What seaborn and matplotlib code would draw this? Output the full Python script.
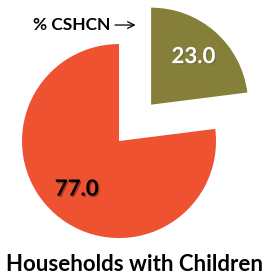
import matplotlib
matplotlib.use('Agg')
import matplotlib.pyplot as plt
import matplotlib.patheffects as pe
import seaborn as sns

# Share of households with children
labels = ['CSHCN', 'Other']
values = [23.0, 77.0]
colors = ['#857F39', '#EE5230']
explode = [0.5, 0.0]

sns.set_theme(style='white')
plt.rcParams['font.family'] = ['Lato', 'DejaVu Sans']

fig = plt.figure(figsize=(2.69, 2.78), dpi=100)
ax = fig.add_axes([0, 0, 1, 1])

wedges, texts, autotexts = ax.pie(values, colors=colors, explode=explode,
                                  startangle=90, counterclock=False,
                                  autopct='%.1f', pctdistance=0.66,
                                  wedgeprops=dict(linewidth=0))

# value labels: white on olive, black on orange
autotexts[0].set_color('white')
autotexts[1].set_color('black')
for t in autotexts:
    t.set_fontsize(16)
    t.set_fontweight('bold')
    t.set_path_effects([pe.withSimplePatchShadow(offset=(1, -1), alpha=0.35)])

ax.set_xlim(-1.227, 1.546)
ax.set_ylim(-1.412, 1.454)
ax.axis('off')

ax.annotate('', xy=(0.2, 1.196), xytext=(-0.07, 1.196),
            arrowprops=dict(arrowstyle='->', color='black', lw=0.9,
                            mutation_scale=12))
ax.text(-0.09, 1.196, '% CSHCN', ha='right', va='center',
        fontsize=12.5, fontweight='bold', color='black')

fig.text(0.5, 0.05, 'Households with Children', ha='center', va='center',
         fontsize=16, fontweight='bold', color='black')

fig.savefig('out.png', dpi=100)
